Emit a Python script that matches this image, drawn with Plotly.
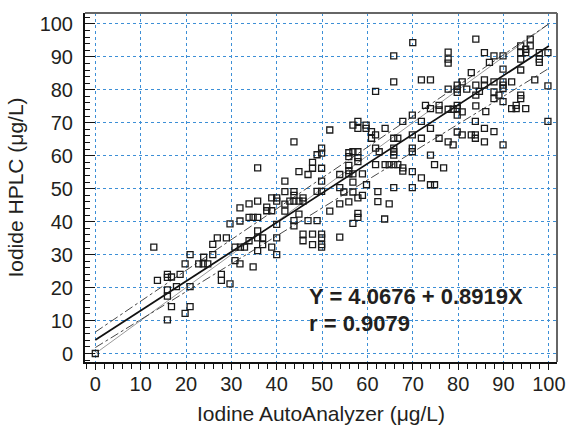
import plotly.graph_objects as go

# ---- data ----
autoanalyzer = [
    0, 12.9, 13.7, 15.9, 15.9, 16.8, 18.7, 15.9, 15.9, 17.9, 16.8, 15.9, 19.8, 20.9, 20.9, 19.8, 20.9,
    22.8, 23.8, 24.8, 23.9, 25.9, 25.9, 26.9, 28.9, 27.8, 27.8, 29.7, 29.7, 30.8, 32.0, 32.9, 30.8,
    31.9, 31.9, 31.9, 33.9, 33.9, 33.9,
    34.8, 35.8, 35.8, 34.8, 35.8, 35.8, 35.8, 35.8, 36.9, 36.9, 37.8, 37.8, 38.9, 38.9, 40.0, 40.0,
    40.0, 38.9, 40.0, 40.0, 41.8, 41.8, 41.8, 41.8, 42.9, 43.8, 43.8, 43.8, 43.8, 43.8, 43.8, 44.9,
    45.8, 45.8, 44.9, 44.9, 46.9, 47.9, 47.9, 48.9, 49.9, 49.9, 49.9, 49.9, 48.9, 49.9, 46.9, 48.9,
    45.8, 45.8, 47.9, 47.9, 49.9, 49.9, 49.9, 49.9, 51.7, 51.7,
    53.9, 53.9, 53.9, 54.8, 55.9, 56.8, 57.9, 55.9, 57.9, 57.9, 55.9, 55.9, 55.9, 56.8, 58.9, 56.8,
    59.8, 55.9, 56.8, 57.9, 58.9, 57.9, 57.9, 62.3, 62.3, 64.8, 63.8, 56.8, 57.9, 57.9, 59.7, 59.7,
    60.9, 60.9, 61.8, 61.8, 62.6, 63.9, 61.8, 63.9, 64.8, 65.8, 66.7, 65.8, 65.8, 65.8, 66.7, 65.8,
    67.8, 67.8, 67.8, 69.9, 69.9, 69.9, 69.9, 69.9, 69.9, 71.9, 71.9, 71.9, 72.8, 73.9, 73.9, 73.9,
    74.8, 74.8, 73.9, 75.8, 75.8, 75.8, 76.8, 77.8, 78.9, 77.8, 77.8, 79.8, 79.8, 79.8, 79.8, 79.8,
    79.8, 80.9, 79.8, 80.9, 82.9, 83.8, 83.8, 83.8, 85.8, 85.8, 87.9, 89.9, 77.8, 77.8, 77.8, 70.0,
    65.8, 65.8, 71.9, 73.9, 61.8, 80.9, 81.9, 82.9, 83.9, 83.9, 83.9, 84.7, 85.8, 85.8, 85.8, 86.9,
    87.9, 87.9, 87.9, 87.9, 89.0, 89.9, 89.9, 89.9, 89.9, 89.9, 89.9, 91.8, 91.8, 92.8, 92.8, 93.8,
    93.8, 94.9, 93.8, 93.8, 93.8, 93.8, 94.9, 94.9, 95.9, 95.9, 96.9, 97.9, 97.9, 97.9, 99.8, 99.8,
    99.8, 65.8,
    78.9, 83.9, 86.1, 53.9, 56.8,
]
hplc = [
    0, 32.3, 22.2, 24.0, 23.1, 23.2, 24.0, 19.3, 17.4, 20.3, 14.2, 10.2, 12.2, 14.2, 20.3, 27.2, 30.0,
    27.2, 27.2, 27.2, 29.2, 30.0, 33.1, 35.1, 35.1, 24.0, 22.2, 21.1, 39.3, 32.3, 32.3, 32.3, 28.2,
    27.2, 40.2, 44.2, 45.4, 41.3, 34.2,
    26.3, 56.3, 46.2, 41.3, 41.3, 37.2, 35.1, 31.2, 35.1, 33.0, 44.4, 43.3, 43.3, 32.3, 30.0, 35.1,
    39.2, 47.2, 47.2, 46.2, 52.3, 49.1, 45.3, 43.2, 46.2, 49.1, 48.0, 46.2, 64.2, 40.3, 38.7, 46.2,
    47.2, 46.2, 55.2, 42.3, 54.3, 58.0, 56.2, 60.3, 62.3, 60.8, 56.2, 52.3, 49.2, 49.2, 40.3, 40.3,
    36.2, 34.2, 36.2, 33.0, 36.2, 35.1, 33.0, 32.3, 43.2, 67.8,
    54.3, 50.3, 45.4, 49.0, 60.9, 61.2, 61.2, 59.7, 59.4, 58.2, 57.1, 55.5, 54.5, 54.5, 54.5, 52.0,
    51.2, 46.0, 49.0, 47.2, 48.0, 42.5, 41.3, 49.1, 46.1, 45.4, 40.8, 69.3, 70.4, 68.3, 69.3, 68.3,
    67.3, 65.3, 66.3, 62.3, 61.2, 68.3, 57.3, 57.3, 57.3, 57.3, 57.3, 62.3, 61.2, 60.2, 65.3, 65.3,
    70.4, 56.3, 55.3, 72.3, 66.3, 62.3, 61.2, 55.2, 50.3, 70.4, 65.3, 53.3, 75.3, 74.3, 68.3, 60.2,
    57.3, 51.2, 51.2, 75.3, 73.9, 65.3, 56.3, 64.2, 63.3, 80.2, 74.1, 81.4, 80.2, 79.2, 75.3, 74.3,
    72.3, 73.3, 67.2, 66.3, 66.3, 66.3, 65.3, 70.4, 68.3, 64.2, 67.3, 63.3, 91.4, 89.3, 88.1, 94.3,
    90.3, 82.4, 83.0, 83.0, 79.5, 82.4, 80.2, 85.2, 95.4, 81.4, 78.4, 79.5, 83.0, 81.4, 91.3, 88.3,
    82.4, 90.3, 79.4, 77.3, 78.4, 90.3, 86.3, 82.4, 81.4, 80.4, 76.4, 82.4, 74.3, 75.3, 74.3, 78.4,
    77.3, 74.3, 86.0, 93.3, 91.3, 89.3, 92.3, 91.3, 95.4, 93.3, 83.0, 91.3, 89.3, 88.3, 91.3, 81.2,
    70.4, 50.3,
    74.1, 75.1, 73.4, 35.3, 39.5,
]

# regression and reference lines (coefficients)
line_x = [0, 100]
reg_intercept, reg_slope = 4.0676, 0.8919
upper_intercept, upper_slope = 6.5, 0.935
lower_intercept, lower_slope = 1.8, 0.847
identity_slope = 1.0

eq_text = "Y = 4.0676 + 0.8919X"
r_text = "r = 0.9079"

x_ticks = list(range(0, 101, 10))
y_ticks = list(range(0, 101, 10))

FONT = "Liberation Sans, Arial, Helvetica, sans-serif"
TXT = "#231f20"
GRID = "#3d8fd6"

fig = go.Figure()

fig.add_trace(go.Scatter(
    x=line_x, y=[identity_slope * v for v in line_x], mode="lines",
    line=dict(color="#9a9a9a", width=1), hoverinfo="skip", showlegend=False))
fig.add_trace(go.Scatter(
    x=line_x, y=[upper_intercept + upper_slope * v for v in line_x], mode="lines",
    line=dict(color="#333333", width=0.9, dash="dashdot"), hoverinfo="skip", showlegend=False))
fig.add_trace(go.Scatter(
    x=line_x, y=[lower_intercept + lower_slope * v for v in line_x], mode="lines",
    line=dict(color="#333333", width=0.9, dash="dashdot"), hoverinfo="skip", showlegend=False))
fig.add_trace(go.Scatter(
    x=line_x, y=[reg_intercept + reg_slope * v for v in line_x], mode="lines",
    line=dict(color="#111111", width=1.8), hoverinfo="skip", showlegend=False))

fig.add_trace(go.Scatter(
    x=autoanalyzer, y=hplc, mode="markers",
    marker=dict(symbol="square-open", size=6, color="#1a1a1a", line=dict(width=1.3, color="#1a1a1a")),
    showlegend=False))

fig.add_annotation(x=46.7, y=17.2, xref="x", yref="y", text="<b>" + eq_text + "</b>",
                   showarrow=False, xanchor="left", yanchor="middle",
                   font=dict(family=FONT, size=22, color=TXT))
fig.add_annotation(x=46.7, y=9.2, xref="x", yref="y", text="<b>" + r_text + "</b>",
                   showarrow=False, xanchor="left", yanchor="middle",
                   font=dict(family=FONT, size=22, color=TXT))

fig.update_xaxes(
    range=[-2.27, 101.8], tickvals=x_ticks, ticktext=[str(v) for v in x_ticks],
    showgrid=True, gridcolor=GRID, griddash="dot", gridwidth=1, zeroline=False,
    showline=True, linecolor="#111111", linewidth=2, automargin=False,
    ticks="outside", ticklen=6, tickwidth=1.3, tickcolor="#111111", ticklabelstandoff=-3,
    minor=dict(dtick=2, ticks="outside", ticklen=5, tickwidth=1.1, tickcolor="#111111", showgrid=False),
    tickfont=dict(family=FONT, size=20, color=TXT),
    title=dict(text="Iodine AutoAnalyzer (μg/L)", font=dict(family=FONT, size=21, color=TXT), standoff=17),
)
fig.update_yaxes(
    range=[-2.58, 103.3], tickvals=y_ticks, ticktext=[str(v) for v in y_ticks],
    showgrid=True, gridcolor=GRID, griddash="dot", gridwidth=1, zeroline=False,
    showline=True, linecolor="#111111", linewidth=2, automargin=False,
    ticks="inside", ticklen=10, tickwidth=1.3, tickcolor="#111111", ticklabelstandoff=6,
    minor=dict(dtick=2, ticks="inside", ticklen=5, tickwidth=1.1, tickcolor="#111111", showgrid=False),
    tickfont=dict(family=FONT, size=20, color=TXT),
    title=dict(text="Iodide HPLC (μg/L)", font=dict(family=FONT, size=21, color=TXT), standoff=10),
)

fig.add_shape(type="line", xref="paper", yref="paper", x0=0, y0=1, x1=1, y1=1,
              line=dict(color="#666666", width=2))
fig.add_shape(type="line", xref="paper", yref="paper", x0=1, y0=0, x1=1, y1=1,
              line=dict(color="#666666", width=2))

fig.update_layout(
    width=572, height=425,
    margin=dict(l=85, r=15, t=13, b=63),
    plot_bgcolor="white", paper_bgcolor="white",
    font=dict(family=FONT, color=TXT),
)

fig.write_html(
    "out.html",
    config={"displayModeBar": False},
    post_script="document.body.style.margin='0px';document.body.style.overflow='hidden';",
)
